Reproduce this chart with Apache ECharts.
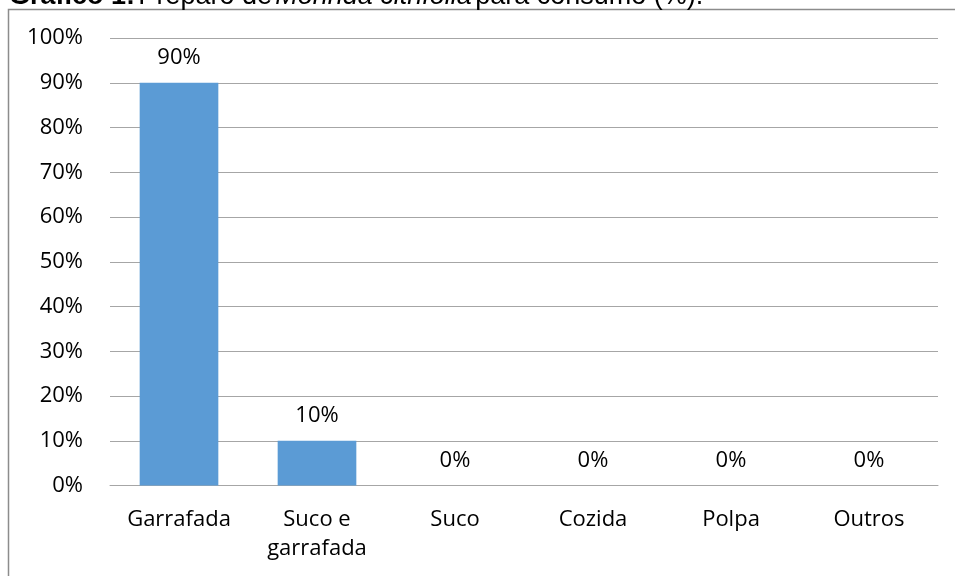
<!DOCTYPE html>
<html>
<head>
<meta charset="utf-8">
<script src="https://cdn.jsdelivr.net/npm/echarts@6/dist/echarts.min.js"></script>
<style>
  html, body { margin: 0; padding: 0; background: #fff; }
  #chart { width: 955px; height: 576px; }
</style>
</head>
<body>
<div id="chart"></div>
<script>
// Preparo de Morinda citrifolia para consumo (%)
const categories = ['Garrafada', 'Suco e\ngarrafada', 'Suco', 'Cozida', 'Polpa', 'Outros'];
const values = [90, 10, 0, 0, 0, 0];
const yTicks = [0, 10, 20, 30, 40, 50, 60, 70, 80, 90, 100];

const FONT = '"Open Sans", Lato, sans-serif';
const TITLE_FONT = '"Liberation Sans", Arial, sans-serif';
const chart = echarts.init(document.getElementById('chart'), null, { renderer: 'canvas' });

chart.setOption({
  animation: false,
  backgroundColor: '#ffffff',
  graphic: [
    {
      type: 'text',
      left: 9,
      top: -17,
      silent: true,
      style: {
        text: '{b|Gráfico 1:} {n|Preparo de} {i|Morinda citrifolia} {n|para consumo (%).}',
        rich: {
          b: { fontFamily: TITLE_FONT, fontSize: 27, fontWeight: 'bold', fill: '#000' },
          n: { fontFamily: TITLE_FONT, fontSize: 27, fill: '#000' },
          i: { fontFamily: TITLE_FONT, fontSize: 27, fontStyle: 'italic', fill: '#000' }
        }
      }
    },
    {
      type: 'rect',
      shape: { x: 8.5, y: 9.5, width: 1000, height: 700 },
      style: { fill: 'none', stroke: '#8c8c8c', lineWidth: 1.5 },
      z: -1,
      silent: true
    }
  ],
  grid: { left: 110, right: 17, top: 38, bottom: 90.5, containLabel: false },
  xAxis: {
    type: 'category',
    data: categories,
    axisLine: { show: true, lineStyle: { color: '#a6a6a6', width: 1 } },
    axisTick: { show: false },
    axisLabel: {
      color: '#000',
      fontFamily: FONT,
      fontSize: 22,
      lineHeight: 29,
      margin: 20,
      interval: 0
    }
  },
  yAxis: {
    type: 'value',
    min: 0,
    max: 100,
    interval: 10,
    axisLine: { show: false },
    axisTick: { show: false },
    splitLine: { show: true, lineStyle: { color: '#a6a6a6', width: 1 } },
    axisLabel: {
      color: '#000',
      fontFamily: FONT,
      fontSize: 22,
      margin: 27,
      formatter: v => (yTicks.includes(v) ? v + '%' : '')
    }
  },
  series: [{
    type: 'bar',
    data: values,
    barWidth: '57%',
    itemStyle: { color: '#5b9bd5' },
    label: {
      show: true,
      position: 'top',
      distance: 14,
      color: '#000',
      fontFamily: FONT,
      fontSize: 22,
      formatter: p => p.value + '%'
    }
  }]
});
</script>
</body>
</html>
